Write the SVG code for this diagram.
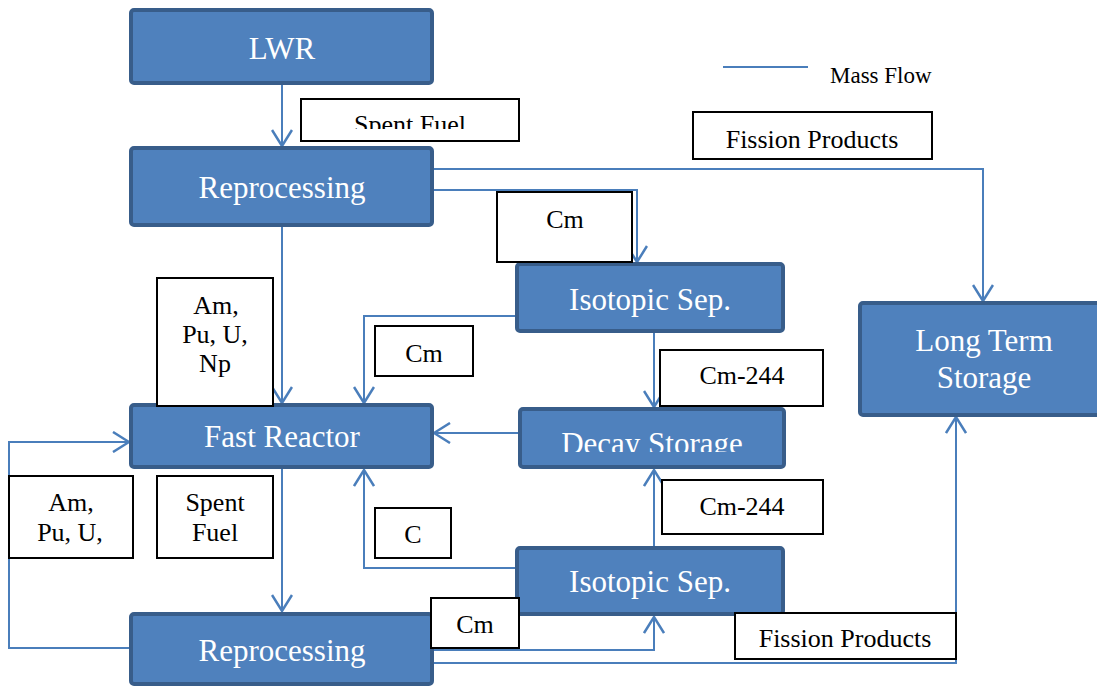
<svg xmlns="http://www.w3.org/2000/svg" width="1097" height="686" viewBox="0 0 1097 686">
<style>
.node rect{fill:#4f81bd;stroke:#385d8a;stroke-width:4}
.node text{fill:#fff;font-family:"Liberation Serif",serif;font-size:31px;text-anchor:middle}
.lbl rect{fill:#fff;stroke:#000;stroke-width:2}
.lbl text{fill:#000;font-family:"Liberation Serif",serif;font-size:26px;text-anchor:middle}
#connectors path{fill:none;stroke:#4a7ebb;stroke-width:2;marker-end:url(#arr)}
</style>
<defs>
<marker id="arr" markerUnits="userSpaceOnUse" markerWidth="18" markerHeight="22" viewBox="0 0 18 22" refX="17" refY="11" orient="auto">
<path d="M1,1 L17,11 L1,21" fill="none" stroke="#4a7ebb" stroke-width="2.5"/>
</marker>
<clipPath id="clipSF"><rect x="301" y="99" width="218" height="30"/></clipPath>
<clipPath id="clipDS"><rect x="520" y="409" width="264" height="43"/></clipPath>
</defs>
<rect width="1097" height="686" fill="#fff"/>
<g id="connectors">
<path d="M282,85 V146"/>
<path d="M432,169 H983 V301"/>
<path d="M432,190 H637 V262"/>
<path d="M282,226 V403"/>
<path d="M517,316 H364 V403"/>
<path d="M654,332 V407"/>
<path d="M520,433 H434"/>
<path d="M282,468 V611"/>
<path d="M131,648 H9 V442 H129"/>
<path d="M517,568 H364 V470"/>
<path d="M654,547 V470"/>
<path d="M432,650 H654 V617"/>
<path d="M432,663 H956 V417"/>
</g>
<g id="legend">
<line x1="723" y1="67" x2="808" y2="67" stroke="#4a7ebb" stroke-width="2"/>
<text x="830" y="83" font-family="Liberation Serif,serif" font-size="23" fill="#000">Mass Flow</text>
</g>
<g id="lwr" class="node"><rect x="131" y="10" width="301" height="73" rx="3"/><text x="282" y="59">LWR</text></g>
<g id="reprocessing1" class="node"><rect x="131" y="148" width="301" height="77" rx="3"/><text x="282" y="198">Reprocessing</text></g>
<g id="isosep1" class="node"><rect x="517" y="264" width="266" height="67" rx="3"/><text x="650" y="310">Isotopic Sep.</text></g>
<g id="lts" class="node"><rect x="860" y="303" width="245" height="112" rx="3"/><text x="984" y="351">Long Term</text><text x="984" y="388">Storage</text></g>
<g id="fastreactor" class="node"><rect x="131" y="405" width="301" height="62" rx="3"/><text x="282" y="447">Fast Reactor</text></g>
<g id="decay" class="node"><rect x="520" y="409" width="264" height="58" rx="3"/><text x="652" y="454" clip-path="url(#clipDS)">Decay Storage</text></g>
<g id="isosep2" class="node"><rect x="517" y="548" width="266" height="66" rx="3"/><text x="650" y="592">Isotopic Sep.</text></g>
<g id="reprocessing2" class="node"><rect x="131" y="614" width="301" height="70" rx="3"/><text x="282" y="661">Reprocessing</text></g>
<g id="lbl-spentfuel1" class="lbl"><rect x="301" y="99" width="218" height="42"/><text x="410" y="133" clip-path="url(#clipSF)">Spent Fuel</text></g>
<g id="lbl-fp1" class="lbl"><rect x="693" y="112" width="239" height="47"/><text x="812" y="148">Fission Products</text></g>
<g id="lbl-cm1" class="lbl"><rect x="497" y="192" width="135" height="70"/><text x="565" y="228">Cm</text></g>
<g id="lbl-ampunp" class="lbl"><rect x="157" y="278" width="116" height="128"/><text x="216" y="314">Am,</text><text x="215" y="343">Pu, U,</text><text x="215" y="372">Np</text></g>
<g id="lbl-cm2" class="lbl"><rect x="375" y="326" width="98" height="50"/><text x="424" y="362">Cm</text></g>
<g id="lbl-cm244a" class="lbl"><rect x="660" y="350" width="163" height="56"/><text x="742" y="384">Cm-244</text></g>
<g id="lbl-ampu" class="lbl"><rect x="9" y="476" width="124" height="82"/><text x="71" y="511">Am,</text><text x="70" y="541">Pu, U,</text></g>
<g id="lbl-spentfuel2" class="lbl"><rect x="157" y="476" width="116" height="82"/><text x="215" y="511">Spent</text><text x="215" y="541">Fuel</text></g>
<g id="lbl-c" class="lbl"><rect x="375" y="508" width="76" height="50"/><text x="413" y="543">C</text></g>
<g id="lbl-cm244b" class="lbl"><rect x="662" y="480" width="161" height="54"/><text x="742" y="515">Cm-244</text></g>
<g id="lbl-cm3" class="lbl"><rect x="431" y="598" width="88" height="50"/><text x="475" y="633">Cm</text></g>
<g id="lbl-fp2" class="lbl"><rect x="735" y="613" width="221" height="46"/><text x="845" y="647">Fission Products</text></g>
</svg>
